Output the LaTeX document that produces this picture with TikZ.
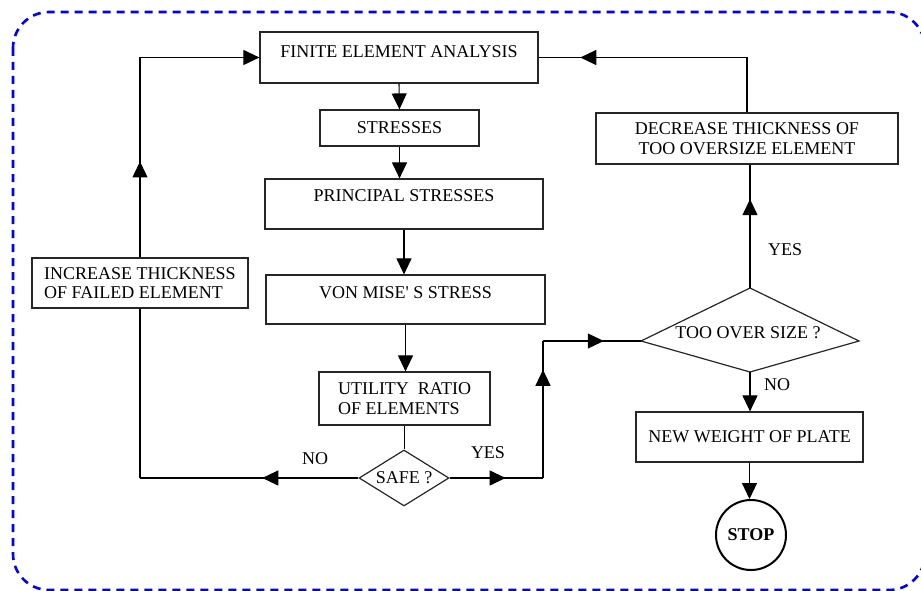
\documentclass[tikz,border=0pt]{standalone}
\usepackage{fontspec}
\setmainfont{Liberation Serif}
\usetikzlibrary{shapes.geometric,arrows.meta,decorations.markings}

\begin{document}
\begin{tikzpicture}[x=1pt,y=-1pt,
    every node/.style={font=\fontsize{18}{19.5}\selectfont},
    box/.style={draw=black!85,line width=1.2pt,rectangle,inner sep=2pt},
    tip/.style={-{Triangle[length=16pt,width=15pt]}},
    midarrow/.style={postaction={decorate},decoration={markings,
        mark=at position #1 with {\arrow{Triangle[length=16pt,width=15pt]}}}},
    lbl/.style={inner sep=0pt}]

      \useasboundingbox (0,0) rectangle (921,591);

      % dashed frame
      \draw[blue,line width=2.6pt,dash pattern=on 8pt off 6pt,rounded corners=36pt]
        (13,12) rectangle (925,590);

      % main column
      \node[box,minimum width=278pt,minimum height=51pt,text depth=11pt] (fea) at (399,57.5) {FINITE ELEMENT ANALYSIS};
      \node[box,minimum width=159pt,minimum height=36pt] (str) at (399.5,128) {STRESSES};
      \node[box,minimum width=278pt,minimum height=50pt,text depth=16pt] (pst) at (404,204) {PRINCIPAL STRESSES};
      \node[box,minimum width=279pt,minimum height=49pt,text depth=13pt] (von) at (405.5,299.5) {VON MISE\textquotesingle\ S STRESS};
      \node[box,minimum width=171pt,minimum height=53pt,align=left] (uti) at (404.5,398.5) {UTILITY\ \ RATIO\\OF ELEMENTS};
      \node[draw=black!85,line width=1.2pt,diamond,inner sep=0pt,aspect=1.59,
            minimum width=90pt,minimum height=56pt] (safe) at (404,478) {SAFE ?};

      % left loop
      \node[box,minimum width=216pt,minimum height=50pt,align=left] (inc) at (140,283) {INCREASE THICKNESS\\OF FAILED ELEMENT};

      % right column
      \node[box,minimum width=302pt,minimum height=51pt,align=center] (dec) at (747,138.5) {DECREASE THICKNESS OF\\TOO OVERSIZE ELEMENT};
      \coordinate (ovn) at (750,288);
      \coordinate (ovw) at (641,341);
      \coordinate (ovs) at (750,372);
      \coordinate (ove) at (859,341);
      \draw[black!85,line width=1.2pt] (ovn) -- (ove) -- (ovs) -- (ovw) -- cycle; % kite
      \node[lbl] (over) at (748,333) {TOO OVER SIZE ?};
      \node[box,minimum width=227pt,minimum height=50pt] (new) at (749.5,437) {NEW WEIGHT OF PLATE};
      \node[circle,draw=black,line width=2pt,minimum size=70pt,inner sep=0pt,font=\fontsize{18}{19.5}\selectfont\bfseries] (stop) at (751,535) {STOP};

      % corners
      \coordinate (c1) at (safe.west -| inc.south);
      \coordinate (c2) at (inc.north |- fea.west);
      \coordinate (c3) at (543,478);
      \coordinate (c4) at (c3 |- ovw);
      \coordinate (c5) at (dec.north |- fea.east);

      \draw[line width=1.1pt,tip] (fea.south) -- (str.north);
      \draw[line width=1.1pt,tip] (str.south) -- (str.south |- pst.north);
      \draw[line width=1.1pt,tip] (pst.south) -- (pst.south |- von.north);
      \draw[line width=1.1pt,tip] (von.south) -- (von.south |- uti.north);
      \draw[line width=1.1pt] (uti.south) -- (uti.south |- safe.north);

      \draw[line width=1.1pt,midarrow=0.44] (safe.west) -- (c1); % no
      \draw[line width=1.1pt] (c1) -- (inc.south);
      \draw[line width=1.1pt,midarrow=0.48] (inc.north) -- (c2);
      \draw[line width=1.1pt,tip] (c2) -- (fea.west);

      \draw[line width=1.1pt,midarrow=0.6] (safe.east) -- (c3); % yes
      \draw[line width=1.1pt,midarrow=0.79] (c3) -- (c4);
      \draw[line width=1.1pt,midarrow=0.62] (c4) -- (ovw);

      \draw[line width=1.1pt,midarrow=0.72] (ovn) -- (ovn |- dec.south); % yes
      \draw[line width=1.1pt] (dec.north) -- (c5);
      \draw[line width=1.1pt,midarrow=0.8] (c5) -- (fea.east);
      \draw[line width=1.1pt,tip] (ovs) -- (ovs |- new.north); % no
      \draw[line width=1.1pt,tip] (new.south) -- (new.south |- stop.north);

      \node[lbl] (no1) at (315,459) {NO};
      \node[lbl] (yes1) at (488,453) {YES};
      \node[lbl] (yes2) at (785,250) {YES};
      \node[lbl] (no2) at (777,385) {NO};

\end{tikzpicture}
\end{document}
